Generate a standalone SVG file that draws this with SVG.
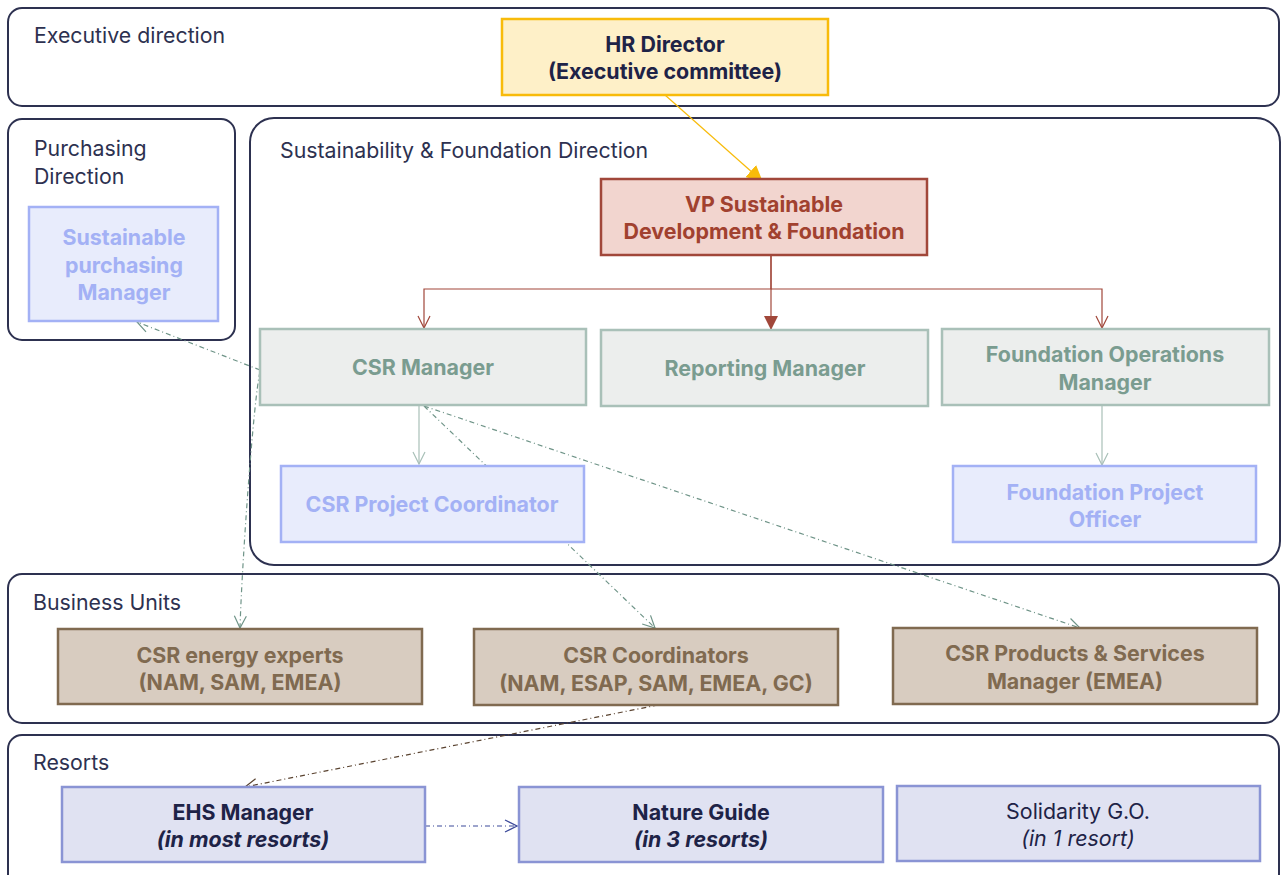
<svg xmlns="http://www.w3.org/2000/svg" width="1282" height="875" viewBox="0 0 1282 875">
<style>
.cl{fill:#fff;stroke:#2d3150;stroke-width:2}
.cll{font-family:Inter,"Liberation Sans",sans-serif;font-size:21.3px;fill:#2d3150}
.t{font-family:Inter,"Liberation Sans",sans-serif;font-size:21.4px;font-weight:bold;text-anchor:middle;dominant-baseline:central}
.hr rect{fill:#fef0c8;stroke:#f8bb0a;stroke-width:2.5}
.hr text{fill:#1e2347}
.vp rect{fill:#f2d5cf;stroke:#a1473a;stroke-width:2.5}
.vp text{fill:#a1412f}
.gr rect{fill:#eceeed;stroke:#a9c0b8;stroke-width:2.5}
.gr text{fill:#7a9c90}
.bl rect{fill:#e8ecfc;stroke:#a3b1f5;stroke-width:2.5}
.bl text{fill:#a3b1f5}
.br rect{fill:#d8ccc0;stroke:#806a50;stroke-width:2.5}
.br text{fill:#806a50}
.rs rect{fill:#e0e2f2;stroke:#8a94d4;stroke-width:2.5}
.rs text{fill:#1e2347}
.it{font-style:italic}
.nw{font-weight:normal}
.e{fill:none;stroke-width:1.2}
.dd{stroke-dasharray:5 3 1 3}
</style>
<defs>
<marker id="fy" viewBox="0 0 16 16" refX="15" refY="8" markerWidth="16" markerHeight="16" markerUnits="userSpaceOnUse" orient="auto"><path d="M0,0 L16,8 L0,16 z" fill="#f8bb0a"/></marker>
<marker id="fr" viewBox="0 0 14 14" refX="13" refY="7" markerWidth="14" markerHeight="14" markerUnits="userSpaceOnUse" orient="auto"><path d="M0,0 L14,7 L0,14 z" fill="#a1473a"/></marker>
<marker id="or" viewBox="0 0 14 14" refX="13" refY="7" markerWidth="14" markerHeight="14" markerUnits="userSpaceOnUse" orient="auto"><path d="M1,1 L13,7 L1,13" fill="none" stroke="#a1473a" stroke-width="1.2"/></marker>
<marker id="og" viewBox="0 0 14 14" refX="13" refY="7" markerWidth="14" markerHeight="14" markerUnits="userSpaceOnUse" orient="auto"><path d="M1,1 L13,7 L1,13" fill="none" stroke="#a9c0b8" stroke-width="1.2"/></marker>
<marker id="od" viewBox="0 0 14 14" refX="13" refY="7" markerWidth="14" markerHeight="14" markerUnits="userSpaceOnUse" orient="auto"><path d="M1,1 L13,7 L1,13" fill="none" stroke="#6f9488" stroke-width="1.2"/></marker>
<marker id="ob" viewBox="0 0 14 14" refX="13" refY="7" markerWidth="14" markerHeight="14" markerUnits="userSpaceOnUse" orient="auto"><path d="M1,1 L13,7 L1,13" fill="none" stroke="#5a4330" stroke-width="1.2"/></marker>
<marker id="ou" viewBox="0 0 14 14" refX="13" refY="7" markerWidth="14" markerHeight="14" markerUnits="userSpaceOnUse" orient="auto"><path d="M1,1 L13,7 L1,13" fill="none" stroke="#3c4a9a" stroke-width="1.2"/></marker>
</defs>
<rect width="1282" height="875" fill="#fff"/>
<g id="clusters">
<g id="cluster-executive"><rect class="cl" x="8" y="8" width="1271" height="98" rx="14"/><text class="cll" x="34" y="43">Executive direction</text></g>
<g id="cluster-purchasing"><rect class="cl" x="8" y="119" width="227" height="221" rx="14"/><text class="cll" x="34" y="156">Purchasing</text><text class="cll" x="34" y="184">Direction</text></g>
<g id="cluster-sustainability"><rect class="cl" x="250" y="118" width="1030" height="447" rx="24"/><text class="cll" x="280" y="158">Sustainability &amp; Foundation Direction</text></g>
<g id="cluster-bu"><rect class="cl" x="8" y="574" width="1271" height="149" rx="14"/><text class="cll" x="33" y="610">Business Units</text></g>
<g id="cluster-resorts"><rect class="cl" x="8" y="735" width="1271" height="160" rx="14"/><text class="cll" x="33" y="770">Resorts</text></g>
</g>
<g id="connectors">
<path class="e" stroke="#f8bb0a" d="M665,95 L762,181" marker-end="url(#fy)"/>
<path class="e" stroke="#a1473a" d="M771,255 L771,289 L424,289 L424,328" marker-end="url(#or)"/>
<path class="e" stroke="#a1473a" d="M771,255 L771,329" marker-end="url(#fr)"/>
<path class="e" stroke="#a1473a" d="M771,289 L1102,289 L1102,328" marker-end="url(#or)"/>
<path class="e" stroke="#a9c0b8" d="M419,406 L419,464" marker-end="url(#og)"/>
<path class="e" stroke="#a9c0b8" d="M1102,406 L1102,465" marker-end="url(#og)"/>
<path class="e dd" stroke="#6f9488" d="M260,370 L137,322" marker-end="url(#od)"/>
<path class="e dd" stroke="#6f9488" d="M260,372 C254,395 242,560 240,628" marker-end="url(#od)"/>
<path class="e dd" stroke="#6f9488" d="M424,406 L655,628" marker-end="url(#od)"/>
<path class="e dd" stroke="#6f9488" d="M424,406 L1080,628" marker-end="url(#od)"/>
<path class="e dd" stroke="#5a4330" d="M658,705 L245,787" marker-end="url(#ob)"/>
<path class="e dd" stroke="#3c4a9a" d="M425,826 L517,826" marker-end="url(#ou)"/>
</g>
<g id="node-hr" class="hr"><rect x="502" y="19" width="326" height="76"/><text class="t" x="665" y="44">HR Director</text><text class="t" x="665" y="71">(Executive committee)</text></g>
<g id="node-vp" class="vp"><rect x="601" y="179" width="326" height="76"/><text class="t" x="764" y="204">VP Sustainable</text><text class="t" x="764" y="231">Development &amp; Foundation</text></g>
<g id="node-csr" class="gr"><rect x="260" y="329" width="326" height="76"/><text class="t" x="423" y="367">CSR Manager</text></g>
<g id="node-reporting" class="gr"><rect x="601" y="330" width="327" height="76"/><text class="t" x="765" y="368">Reporting Manager</text></g>
<g id="node-foundops" class="gr"><rect x="942" y="329" width="327" height="76"/><text class="t" x="1105" y="354">Foundation Operations</text><text class="t" x="1105" y="382">Manager</text></g>
<g id="node-spm" class="bl"><rect x="29" y="207" width="189" height="114"/><text class="t" x="124" y="237">Sustainable</text><text class="t" x="124" y="265">purchasing</text><text class="t" x="124" y="292">Manager</text></g>
<g id="node-csrpc" class="bl"><rect x="281" y="466" width="303" height="76"/><text class="t" x="432" y="504">CSR Project Coordinator</text></g>
<g id="node-fpo" class="bl"><rect x="953" y="466" width="303" height="76"/><text class="t" x="1105" y="492">Foundation Project</text><text class="t" x="1105" y="519">Officer</text></g>
<g id="node-energy" class="br"><rect x="58" y="629" width="364" height="75"/><text class="t" x="240" y="655">CSR energy experts</text><text class="t" x="240" y="682">(NAM, SAM, EMEA)</text></g>
<g id="node-coord" class="br"><rect x="474" y="629" width="364" height="76"/><text class="t" x="656" y="655">CSR Coordinators</text><text class="t" x="656" y="683">(NAM, ESAP, SAM, EMEA, GC)</text></g>
<g id="node-products" class="br"><rect x="893" y="628" width="364" height="76"/><text class="t" x="1075" y="653">CSR Products &amp; Services</text><text class="t" x="1075" y="681">Manager (EMEA)</text></g>
<g id="node-ehs" class="rs"><rect x="62" y="787" width="363" height="75"/><text class="t" x="243" y="812">EHS Manager</text><text class="t it" x="243" y="839">(in most resorts)</text></g>
<g id="node-nature" class="rs"><rect x="519" y="787" width="364" height="75"/><text class="t" x="701" y="812">Nature Guide</text><text class="t it" x="701" y="839">(in 3 resorts)</text></g>
<g id="node-solidarity" class="rs"><rect x="897" y="786" width="363" height="75"/><text class="t nw" x="1078" y="811">Solidarity G.O.</text><text class="t nw it" x="1078" y="838">(in 1 resort)</text></g>
</svg>
